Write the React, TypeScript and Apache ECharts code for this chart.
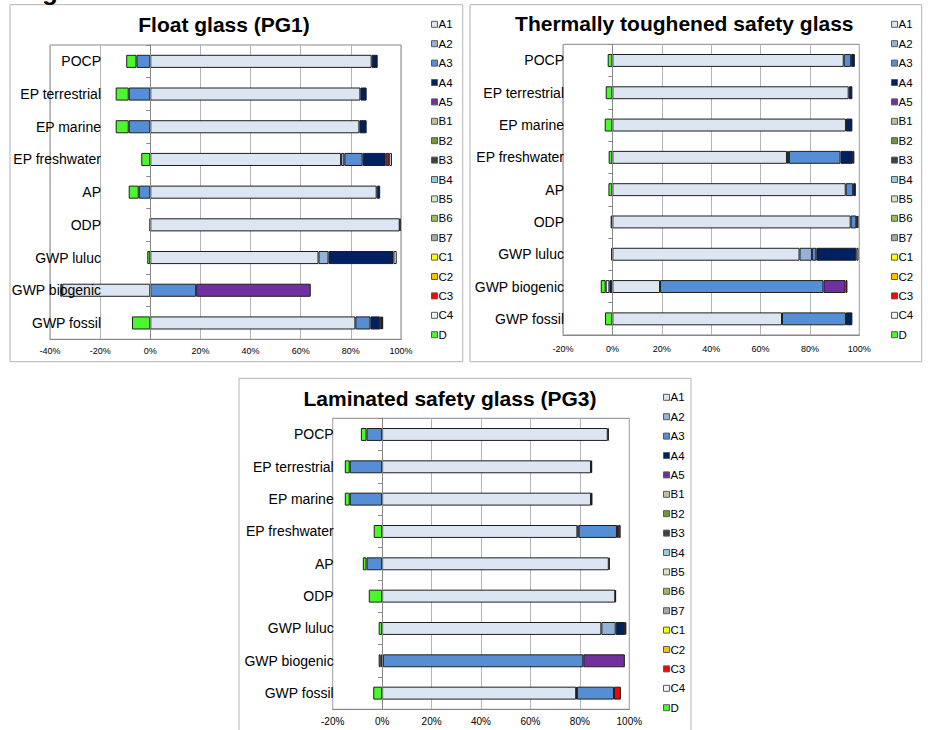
import React, { useEffect, useRef } from "react";
import * as echarts from "echarts";

// ---------- data ----------
const categories = [
  "POCP",
  "EP terrestrial",
  "EP marine",
  "EP freshwater",
  "AP",
  "ODP",
  "GWP luluc",
  "GWP biogenic",
  "GWP fossil",
];
const stages = ["A1", "A2", "A3", "A4", "A5", "B1", "B2", "B3", "B4", "B5", "B6", "B7", "C1", "C2", "C3", "C4", "D"];
const stageColors = [
  "#dce6f2", "#95b3d7", "#558ed5", "#002060", "#7030a0",
  "#c4bd97", "#77933c", "#404040", "#93cddd", "#d7e4bd", "#9bbb59", "#a6a6a6",
  "#ffff00", "#ffc000", "#ff0000", "#f2f2f2", "#4cf72e",
];
const titles = ["Float glass (PG1)", "Thermally toughened safety glass", "Laminated safety glass (PG3)"];
const axisMin = [-40, -20, -20];
const tickLabels = ["-40%", "-20%", "0%", "20%", "40%", "60%", "80%", "100%"];

// Float glass (PG1), % per category (top to bottom)
const pg1A1 = [88.3, 83.8, 83.4, 76.1, 90.3, 99.5, 67.1, -35.1, 81.8];
const pg1A2 = [0, 0, 0, 1.3, 0, 0, 4.0, 0, 0];
const pg1A3 = [-5.5, -8.6, -8.6, 7.3, -4.6, 0, 0, 18.3, 6.0];
const pg1A4 = [2.4, 2.5, 2.9, 9.2, 1.4, 0.3, 25.9, 0, 3.9];
const pg1A5 = [0, 0, 0, 0, 0, 0, 0, 45.7, 0];
const pg1C3 = [0, 0, 0, 1.4, 0, 0, 0, 0, 0.7];
const pg1C4 = [0, 0, 0, 1.1, 0, 0, 1.3, 0, 0.5];
const pg1D = [-4.1, -5.2, -5.2, -3.6, -4.0, -0.2, -1.2, -0.8, -7.3];

// Thermally toughened safety glass
const pg2A1 = [93.7, 95.7, 94.6, 70.7, 94.5, 96.5, 75.8, 19.3, 68.7];
const pg2A2 = [0, 0, 0, 0.8, 0, 0, 5.0, 0, 0];
const pg2A3 = [3.0, 0, 0, 20.9, 3.0, 2.3, 1.8, 66.2, 25.9];
const pg2A4 = [1.5, 1.5, 2.6, 5.0, 1.1, 0.4, 16.2, -1.2, 2.6];
const pg2A5 = [0, 0, 0, 0, 0, 0, 0, 8.9, 0];
const pg2C3 = [0, 0, 0, 0.6, 0, 0.4, 0, 0.8, 0];
const pg2C4 = [0, 0, 0, 0, 0, 0, 0.9, -1.5, 0];
const pg2D = [-1.9, -2.7, -3.1, -1.5, -1.6, -0.7, -0.5, -2.0, -3.0];

// Laminated safety glass (PG3)
const pg3A1 = [91.3, 84.5, 84.5, 79.0, 91.7, 94.3, 88.7, 0.3, 78.5];
const pg3A2 = [0, 0, 0, 0.5, 0, 0, 5.8, 0, 0.3];
const pg3A3 = [-6.3, -13.1, -13.1, 15.5, -6.3, 0, 0, 81.1, 15.0];
const pg3A4 = [0.4, 0.5, 0.6, 0.5, 0.4, 0.3, 3.8, 0, 0];
const pg3A5 = [0, 0, 0, 0, 0, 0, 0, 16.8, 0];
const pg3C3 = [0, 0, 0, 1.0, 0, 0, 0, 0, 2.8];
const pg3C4 = [0, 0, 0, 0, 0, 0, 0.5, -0.6, 0];
const pg3D = [-2.3, -2.0, -2.0, -3.4, -1.5, -5.4, -1.4, -0.8, -3.6];

const panelValues: Record<string, number[]>[] = [
  { A1: pg1A1, A2: pg1A2, A3: pg1A3, A4: pg1A4, A5: pg1A5, C3: pg1C3, C4: pg1C4, D: pg1D },
  { A1: pg2A1, A2: pg2A2, A3: pg2A3, A4: pg2A4, A5: pg2A5, C3: pg2C3, C4: pg2C4, D: pg2D },
  { A1: pg3A1, A2: pg3A2, A3: pg3A3, A4: pg3A4, A5: pg3A5, C3: pg3C3, C4: pg3C4, D: pg3D },
];

// ---------- layout ----------
const FONT = '"Liberation Sans", Arial, Helvetica, sans-serif';
const grids = [
  { left: 50, top: 45, width: 351, height: 294.3 },
  { left: 563, top: 44.3, width: 296.3, height: 290.7 },
  { left: 332.7, top: 418.3, width: 296.6, height: 291 },
];
const catLabelMargin = [-51, -1, -1];
const tickFont = [9, 9, 10];
const tickMargin = [7, 9.5, 7.4];
const legendPos = [
  { left: 431, top: 18.3 },
  { left: 891, top: 18.3 },
  { left: 663, top: 391.3 },
];
const titlePos = [
  { x: 224, y: 24.7 },
  { x: 684.3, y: 23 },
  { x: 450, y: 398 },
];
const panelBoxes = [
  { x: 10, y: 4.7, width: 452.7, height: 357 },
  { x: 470, y: 4.7, width: 451.7, height: 357 },
  { x: 239, y: 378.3, width: 452, height: 360 },
];

export default function App() {
  const ref = useRef<HTMLDivElement>(null);
  useEffect(() => {
    if (!ref.current) return;
    const chart = echarts.init(ref.current, undefined, { renderer: "svg" });
    const series: any[] = [];
    panelValues.forEach((vals, i) => {
      stages.forEach((s, k) => {
        const arr = vals[s] || categories.map(() => 0);
        series.push({
          type: "bar",
          name: s,
          stack: "panel" + i,
          xAxisIndex: i,
          yAxisIndex: i,
          barWidth: "40%",
          silent: true,
          data: arr.map((v) => (v === 0 ? null : v)),
          itemStyle: { color: stageColors[k], borderColor: "#1e1e1e", borderWidth: 1 },
          emphasis: { disabled: true },
        });
      });
    });
    const option: any = {
      animation: false,
      backgroundColor: "#ffffff",
      grid: grids.map((g) => ({
        ...g,
        show: true,
        borderColor: "#868686",
        borderWidth: 1,
        backgroundColor: "transparent",
        containLabel: false,
        outerBoundsMode: "none",
      })),
      xAxis: grids.map((_, i) => ({
        gridIndex: i,
        type: "value",
        min: axisMin[i],
        max: 100,
        interval: 20,
        axisLabel: {
          formatter: (v: number) => tickLabels[Math.round((v + 40) / 20)],
          fontSize: tickFont[i],
          color: "#000",
          fontFamily: FONT,
          margin: tickMargin[i],
        },
        axisLine: { show: true, onZero: false, lineStyle: { color: "#868686" } },
        axisTick: { show: false },
        splitLine: { show: true, lineStyle: { color: "#b4b4b4", width: 1 } },
      })),
      yAxis: grids.map((_, i) => ({
        gridIndex: i,
        type: "category",
        data: categories,
        inverse: true,
        z: 5,
        axisLine: { show: true, onZero: true, lineStyle: { color: "#868686" } },
        axisTick: { show: true, length: 4, lineStyle: { color: "#868686" } },
        axisLabel: {
          margin: catLabelMargin[i],
          fontSize: 14,
          color: "#000",
          fontFamily: FONT,
          interval: 0,
          hideOverlap: false,
        },
        splitLine: { show: false },
      })),
      legend: legendPos.map((p) => ({
        ...p,
        orient: "vertical",
        data: stages,
        icon: "rect",
        itemWidth: 6,
        itemHeight: 6,
        itemGap: 7.4,
        padding: 0,
        selectedMode: false,
        itemStyle: { borderColor: "#5a5a5a", borderWidth: 1 },
        textStyle: { fontSize: 11.5, color: "#000", fontFamily: FONT, lineHeight: 12, padding: [0, 0, 0, -4] },
      })),
      graphic: [
        ...panelBoxes.map((b) => ({
          type: "rect",
          shape: b,
          silent: true,
          z: -10,
          style: { fill: "none", stroke: "#b3b3b3", lineWidth: 1 },
        })),
        ...titlePos.map((p, i) => ({
          type: "text",
          x: p.x,
          y: p.y,
          silent: true,
          style: {
            text: titles[i],
            fontSize: 21,
            fontWeight: "bold",
            fontFamily: FONT,
            fill: "#000",
            align: "center",
            verticalAlign: "middle",
          },
        })),
        {
          type: "text",
          x: 42,
          y: -9,
          silent: true,
          style: {
            text: "g",
            fontSize: 26,
            fontWeight: "bold",
            fontFamily: FONT,
            fill: "#000",
            align: "left",
            verticalAlign: "middle",
          },
        },
      ],
      series,
    };
    chart.setOption(option);
    return () => chart.dispose();
  }, []);
  return <div ref={ref} style={{ position: "absolute", left: 0, top: 0, width: 928, height: 730 }} />;
}
